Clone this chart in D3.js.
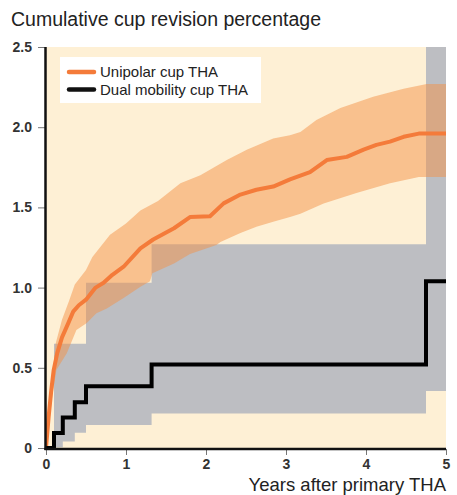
<!DOCTYPE html>
<html>
<head>
<meta charset="utf-8">
<script src="https://cdn.jsdelivr.net/npm/d3@7"></script>
<style>
body { margin:0; background:#fff; }
svg { display:block; font-family:"Liberation Sans", Arial, sans-serif; }
</style>
</head>
<body>
<div id="vis"></div>
<script>
var xTicks = [0,1,2,3,4,5]
var yTicks = [0,0.5,1,1.5,2,2.5]
var seriesNames = ["Unipolar cup THA","Dual mobility cup THA"]

// unipolar cup: KM estimate and 95% CI, [years, percent]
var uniEst = [[0,0],[0.033,0.195],[0.066,0.36],[0.096,0.486],[0.14,0.59],[0.2,0.69],[0.28,0.78],[0.34,0.85],
  [0.41,0.89],[0.5,0.925],[0.62,1.0],[0.72,1.03],[0.83,1.08],[0.97,1.13],[1.18,1.245],[1.34,1.3],[1.6,1.37],
  [1.8,1.44],[2.05,1.445],[2.22,1.525],[2.43,1.58],[2.63,1.61],[2.84,1.63],[3.05,1.675],[3.3,1.72],[3.51,1.795],
  [3.76,1.815],[3.97,1.86],[4.13,1.89],[4.3,1.91],[4.47,1.94],[4.66,1.96],[5,1.96]]
var uniUpper = [[0,0],[0.03,0.25],[0.08,0.445],[0.12,0.65],[0.2,0.8],[0.29,0.92],[0.36,1.02],[0.5,1.11],
  [0.58,1.19],[0.8,1.33],[1.0,1.4],[1.18,1.48],[1.4,1.54],[1.68,1.65],[1.93,1.7],[2.26,1.795],[2.51,1.86],
  [2.84,1.93],[3.05,1.95],[3.18,1.97],[3.38,2.045],[3.68,2.12],[4.09,2.19],[4.47,2.24],[4.76,2.27],[5,2.27]]
var uniLower = [[0,0],[0.04,0.15],[0.08,0.33],[0.13,0.486],[0.26,0.59],[0.38,0.735],[0.51,0.78],[0.63,0.84],
  [0.76,0.87],[0.97,0.935],[1.18,1.005],[1.3,1.04],[1.33,1.09],[1.6,1.15],[1.8,1.21],[2.13,1.265],[2.18,1.285],
  [2.43,1.34],[2.63,1.38],[2.84,1.41],[3.05,1.44],[3.18,1.46],[3.47,1.525],[3.88,1.59],[4.3,1.65],[4.66,1.69],[5,1.69]]

// dual mobility cup: steps
var dualTime = [0,0.1,0.21,0.36,0.5,1.32,4.75,5]
var dualEst = [0,0.094,0.19,0.285,0.385,0.52,1.04,1.04]
var dualLower = [null,0.005,0.04,0.095,0.143,0.215,0.355,0.355]
var dualUpper = [null,0.65,0.65,0.65,1.03,1.27,2.6,2.6]

var width = 457, height = 495
var margin = {left:46, right:11, top:47, bottom:47}

var svg = d3.select("#vis").append("svg").attr("width",width).attr("height",height)

var x = d3.scaleLinear().domain([0,5]).range([margin.left, width-margin.right])
var y = d3.scaleLinear().domain([0,2.5]).range([height-margin.bottom, margin.top])

svg.append("text").attr("x",11).attr("y",26)
  .attr("font-size",19.5).attr("fill","#222")
  .text("Cumulative cup revision percentage")

svg.append("clipPath").attr("id","plotclip").append("rect")
  .attr("x",x(0)).attr("y",y(2.5)).attr("width",x(5)-x(0)).attr("height",y(0)-y(2.5))

var plot = svg.append("g").attr("clip-path","url(#plotclip)")

plot.append("rect")
  .attr("x",x(0)).attr("y",y(2.5)).attr("width",x(5)-x(0)).attr("height",y(0)-y(2.5))
  .attr("fill","#fef0d5")

//dual mobility CI
var dualRows = dualTime.map(function(t,i){ return {t:t, est:dualEst[i], lo:dualLower[i], hi:dualUpper[i]} })
var dualArea = d3.area()
  .defined(function(d){ return d.lo!=null })
  .curve(d3.curveStepAfter)
  .x(function(d){ return x(d.t) })
  .y0(function(d){ return y(d.lo) })
  .y1(function(d){ return y(d.hi) })
plot.append("path").datum(dualRows).attr("d",dualArea).attr("fill","#bdbec2")

//unipolar CI
var line = d3.line().x(function(d){ return x(d[0]) }).y(function(d){ return y(d[1]) })
var bandPts = uniUpper.concat(uniLower.slice().reverse())
plot.append("path").attr("d",line(bandPts)+"Z")
  .attr("fill","rgb(244,146,72)").attr("fill-opacity",0.5)

//unipolar estimate
plot.append("path").datum(uniEst).attr("d",line)
  .attr("fill","none").attr("stroke","#f47b3a").attr("stroke-width",4)
  .attr("stroke-linejoin","round")

//dual mobility estimate
var dualLine = d3.line().curve(d3.curveStepAfter)
  .x(function(d){ return x(d.t) }).y(function(d){ return y(d.est) })
svg.append("path").datum(dualRows).attr("d",dualLine)
  .attr("fill","none").attr("stroke","#000").attr("stroke-width",4)

//axes
var yAxis = svg.append("g").attr("transform","translate("+x(0)+",0)")
  .call(d3.axisLeft(y).tickValues(yTicks).tickSize(8).tickPadding(6)
    .tickFormat(function(d){ return d==0 ? "0" : d.toFixed(1) }))
var xAxis = svg.append("g").attr("transform","translate(0,"+(y(0)+1)+")")
  .call(d3.axisBottom(x).tickValues(xTicks).tickSize(6).tickPadding(4).tickFormat(d3.format("d")))
svg.selectAll(".domain").remove()
svg.selectAll(".tick line").attr("stroke","#777")
svg.selectAll(".tick text").attr("font-size",14).attr("font-weight","bold")
  .attr("fill","#333").style("font-family","Liberation Sans, Arial, sans-serif")

svg.append("line").attr("x1",x(0)-0.5).attr("x2",x(0)-0.5).attr("y1",y(2.5)).attr("y2",y(0)+2)
  .attr("stroke","#111").attr("stroke-width",2.5)
svg.append("line").attr("x1",x(0)-1.5).attr("x2",x(5)).attr("y1",y(0)+1).attr("y2",y(0)+1)
  .attr("stroke","#111").attr("stroke-width",2.5)

svg.append("text").attr("x",x(5)).attr("y",491).attr("text-anchor","end")
  .attr("font-size",18.5).attr("fill","#222")
  .text("Years after primary THA")

//legend
var legend = svg.append("g")
legend.append("rect").attr("x",60).attr("y",57).attr("width",201).attr("height",46).attr("fill","#fff")
var legColors = ["#f47b3a","#111"]
seriesNames.forEach(function(name,i){
  legend.append("line").attr("x1",69).attr("x2",94).attr("y1",72+i*17.5).attr("y2",72+i*17.5)
    .attr("stroke",legColors[i]).attr("stroke-width",4.5).attr("stroke-linecap","round")
  legend.append("text").attr("x",100).attr("y",77+i*17.5).attr("font-size",15).attr("fill","#222")
    .text(name)
})
</script>
</body>
</html>
